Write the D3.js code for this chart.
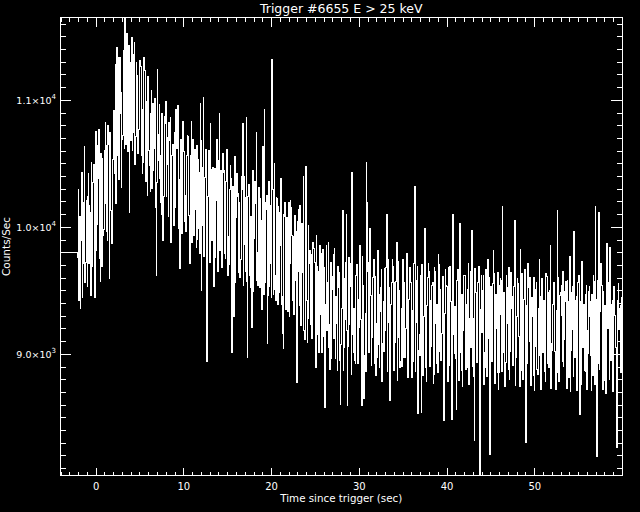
<!DOCTYPE html>
<html>
<head>
<meta charset="utf-8">
<script src="https://cdn.jsdelivr.net/npm/d3@7"></script>
<style>
body{margin:0;background:#000;}
svg{display:block;background:#000;}
text{font-family:"DejaVu Sans",sans-serif;fill:#fff;}
</style>
</head>
<body>
<svg id="graph"></svg>
<script>
var title="Trigger #6655 E > 25 keV"
var xLabel="Time since trigger (sec)"
var yLabel="Counts/Sec"
var xTickValues=[0,10,20,30,40,50]
var yTickValues=[9000,10000,11000]
var yTickMantissa=["9.0","1.0","1.1"]
var yTickExponent=["3","4","4"]

// coarse pre-trigger bins
var preTrigStart=-4.096
var preTrigWidth=1.024
var preTrigCounts=[9800,9800]

// 64 ms bins from -2.048 s, read as pairs: first half / second half of each 128 ms step
var binStart=-2.048
var binWidth=0.064
var firstHalf=[
9760,9420,10080,9890,9440,10190,10630,9720,
9980,10240,9710,10110,10505,9830,10360,9440,
10750,10020,10380,10765,9570,10290,10540,9980,
10600,10180,10640,10800,9590,10420,10090,10530,
10915,10420,10180,11410,11330,10560,10890,10310,
10720,11180,11645,10650,11230,10880,10110,11290,
11490,10740,11050,10490,11290,10830,10600,11120,
11260,10560,10920,11330,10410,10780,10250,11050,
10480,10890,10300,10970,10620,10150,9620,11240,
10730,10380,10560,10890,9890,10470,10810,10240,
10490,10820,10680,9880,10560,10310,10740,10150,
10620,10955,10370,9670,10690,10240,10780,10430,
10250,10560,10710,10090,9710,10830,10370,10180,
10520,10140,10640,9990,10430,10970,9500,10280,
11020,10390,10610,8940,10240,10520,10815,10450,
10130,9530,10460,10210,10690,9800,10890,10340,
10020,10580,10440,9790,10360,10610,9920,10270,
10480,9010,10320,9290,10550,10070,10240,9680,
10190,9740,10400,10810,9860,10230,10860,8970,
10310,9620,10080,9210,10440,9910,10180,10745,
9800,10270,9520,10050,9350,10630,10925,9640,
10140,9080,10360,9710,10020,11315,9470,10500,
9620,10230,9390,10110,9850,10380,9160,9040,
10080,9560,10070,9330,10190,9710,10150,9490,
9920,10060,9580,8775,10040,9650,10170,9430,
9640,10395,9110,10475,9420,9280,9710,9560,
9780,9470,9830,9720,8890,9690,9650,9380,
9310,9040,9820,9560,8580,9390,9180,9875,
9230,9640,8960,9510,9780,9120,9450,8870,
9520,9190,8600,9360,10130,9050,9270,10100,
8590,9480,9230,9710,10430,9150,9360,8920,
9620,9080,9430,9850,9270,8590,9540,8650,
9320,10510,10190,9010,9990,9460,9150,9600,
8920,9580,9240,9810,9070,9470,9330,8780,
9410,9670,9180,10100,9250,9520,8630,9390,
9740,9010,9560,9290,9880,9130,9450,8890,
9360,9620,8970,9510,9200,9790,8810,9430,
9570,9080,9340,9690,10320,9250,9480,8530,
9150,9440,8540,9620,9290,9990,9060,9380,
9710,8950,9420,9180,9560,8840,9650,9240,
9390,9780,9020,9470,9160,9610,8475,9320,
9540,9090,9680,9260,9410,8480,10100,9150,
9370,8560,9590,9230,10030,9010,9470,9180,
9620,9140,9390,8890,9710,9280,9050,9970,
9280,8320,9560,9130,9440,9690,8045,9350,
9170,9620,9010,9480,9290,9740,9120,8207,
9530,9340,9810,8960,9450,9200,9640,8850,
9310,9580,10160,9070,9390,8930,9520,9240,
9680,9020,9360,9180,9470,10050,8970,9290,
9550,9140,9820,9250,8890,9430,9660,8300,
9380,9710,9100,9520,8940,9290,9600,9060,
9470,8880,9360,9740,9130,9550,9010,9420,
9190,9630,8920,9480,9270,9850,9080,9390,
9560,9020,9340,10130,9210,8870,9480,9300,
9650,9110,9410,8940,9580,9260,9770,9030,
9340,9190,9960,9080,9450,9270,9620,8520,
9410,9730,9050,9360,8860,9540,9180,9490,
9290,8990,9470,9620,9370,10160,8190,9580,
10110,9330,9710,9060,9490,8870,9380,9870,
9200,9560,9840,9150,9420,8970,9310,9050,
8260,9420,9190,9380,9050,9470,9280,9150
]
var secondHalf=[
10290,9480,9360,10430,9710,10080,9560,10210,
9530,10420,10170,9460,9690,10350,10490,9580,
9810,10640,10470,9750,10580,9690,9930,10090,
10820,9960,9890,10650,10740,10130,9870,10690,
10420,11280,11120,10560,10370,11330,11060,10690,
11390,10620,10870,11520,10590,11430,11210,10680,
10600,11360,11450,10710,11190,10580,10770,11310,
11150,10420,10510,11230,10360,10990,11180,10600,
10280,11070,10900,10440,11010,10210,10350,10520,
10960,10190,10100,10820,10240,10870,10990,10700,
10080,10790,10860,10230,10650,10010,10170,10920,
10780,9990,10120,10660,9950,10830,10590,10040,
9960,10720,10640,10080,10560,9880,10690,9930,
10610,9840,9900,10530,9790,10680,10010,10470,
9770,10560,10490,9830,10600,9720,10410,9890,
10470,9690,9760,10380,9650,10520,9810,10440,
9680,10430,10350,9750,10480,9620,9700,10290,
10380,9580,9690,10310,9560,10420,10260,9640,
9600,10370,10290,9540,10400,9650,9570,10240,
10330,9520,9610,10250,9490,10360,10200,9580,
9540,10310,10220,9600,10280,9470,9560,10190,
10250,9460,9530,10170,9440,10290,10130,9510,
9420,10220,10160,9480,10230,9390,9450,10100,
10190,9350,9480,10060,9290,10210,9930,9420,
9310,10090,9960,9250,10140,9380,9220,10030,
9940,9180,9290,9870,9090,10010,9810,9230,
9120,9880,9760,9040,9930,9150,9010,9850,
9790,9010,9140,9680,8930,9850,9560,9050,
8880,9720,9610,9120,9830,8960,9240,9690,
9640,8950,9070,9810,8870,9590,9720,9180,
9060,9760,9530,8840,9690,9010,8950,9620,
9700,8920,9210,9640,8800,9770,9450,8990,
8860,9650,9720,9040,9580,8910,9130,9740,
9610,8830,8970,9700,8890,9520,9660,9080,
9020,9590,9680,8860,9740,8930,8850,9560,
9690,8870,9090,9570,8790,9730,9500,8940,
8900,9740,9560,8970,9620,8820,9110,9680,
9560,8810,8940,9710,8860,9580,9690,9030,
8990,9620,9700,8830,9530,8890,8780,9600,
9650,8900,9060,9540,8770,9680,9470,8920,
8850,9700,9510,8950,9590,8800,9150,9660,
9530,8780,8910,9690,8840,9550,9630,9000,
8960,9580,9660,8790,9500,8870,8740,9570,
9620,8880,9030,9510,8760,9650,9420,8900,
8820,9670,9480,8930,9560,8770,9090,9620,
9500,8760,8890,9660,8820,9520,9600,8980,
8940,9550,9630,8770,9470,8850,8720,9540,
9590,8860,9010,9480,8740,9620,9390,8880,
8800,9640,9450,8910,9530,8750,9060,9590,
9470,8740,8870,9630,8800,9490,9570,8960,
8920,9520,9600,8750,9440,8830,8710,9510,
9560,8840,8990,9450,8720,9590,9360,8860,
8780,9610,9420,8890,9500,8730,9030,9560,
9440,8720,8850,9600,8780,9460,9540,8940,
8900,9490,9570,8730,9410,8810,8700,9480,
9530,8820,8970,9420,8710,9560,9330,8840,
8760,9580,9390,8870,9470,8720,9000,9530,
9410,8710,8830,9570,8760,9430,9510,8920,
8880,9460,9540,8720,9380,8790,8690,9450,
9500,8800,8950,9390,8700,9530,9300,8820,
8740,9550,9360,8850,9440,8710,8980,9500
]

var initGraph=function()
    {
        var screen={width:640,height:512}
        var margins={left:60.5,right:18,top:17.5,bottom:36.5}
        var graph=
            {
                width:screen.width-margins.left-margins.right,
                height:screen.height-margins.top-margins.bottom
            }

        d3.select("#graph")
            .attr("width",screen.width)
            .attr("height",screen.height)

        var target=d3.select("#graph")
            .append("g")
            .attr("id","canvas")
            .attr("transform","translate("+margins.left+","+margins.top+")")

        var xScale=d3.scaleLinear()
            .domain([-4,60])
            .range([0,graph.width])
        var yScale=d3.scaleLinear()
            .domain([8042,11648])
            .range([graph.height,0])

        drawLine(target,graph,xScale,yScale)
        drawAxes(target,graph,xScale,yScale)
        drawLabels(graph,margins,yScale)
    }

var drawLine=function(target,graph,xScale,yScale)
    {
        var counts=d3.merge(firstHalf.map(function(v,i){return [v,secondHalf[i]]}))
        var points=[]
        preTrigCounts.forEach(function(v,i)
            {
                points.push({t:preTrigStart+i*preTrigWidth,v:v})
            })
        counts.forEach(function(v,i)
            {
                points.push({t:binStart+i*binWidth,v:v})
            })
        points.push({t:binStart+counts.length*binWidth,v:counts[counts.length-1]})

        target.append("clipPath")
            .attr("id","plotClip")
            .append("rect")
            .attr("width",graph.width)
            .attr("height",graph.height)

        var lineGenerator=d3.line()
            .curve(d3.curveStepAfter)
            .x(function(d){return xScale(d.t)})
            .y(function(d){return yScale(d.v)})

        target.append("path")
            .datum(points)
            .attr("d",lineGenerator)
            .attr("clip-path","url(#plotClip)")
            .attr("fill","none")
            .attr("stroke","#fff")
            .attr("stroke-width",1)
            .attr("shape-rendering","crispEdges")
    }

var drawAxes=function(target,graph,xScale,yScale)
    {
        var xMinor=d3.range(-4,61,1).filter(function(t){return xTickValues.indexOf(t)<0})
        var yMinor=d3.range(8100,11700,100).filter(function(v){return yTickValues.indexOf(v)<0})

        var addAxis=function(axis,tx,ty)
            {
                var g=target.append("g")
                    .attr("transform","translate("+tx+","+ty+")")
                    .style("color","#fff")
                    .attr("shape-rendering","crispEdges")
                    .call(axis)
                g.select(".domain").remove()
                g.selectAll("text")
                    .attr("font-family","DejaVu Sans")
                    .attr("font-size",10)
                return g
            }

        addAxis(d3.axisBottom(xScale).tickValues(xTickValues).tickSize(-8).tickPadding(7.5).tickFormat(d3.format("d")),0,graph.height)
        addAxis(d3.axisBottom(xScale).tickValues(xMinor).tickSize(-4).tickFormat(""),0,graph.height)
        addAxis(d3.axisTop(xScale).tickValues(xTickValues).tickSize(-9).tickFormat(""),0,0)
        addAxis(d3.axisTop(xScale).tickValues(xMinor).tickSize(-4).tickFormat(""),0,0)

        addAxis(d3.axisLeft(yScale).tickValues(yTickValues).tickSize(-10).tickFormat(""),0,0)
        addAxis(d3.axisLeft(yScale).tickValues(yMinor).tickSize(-5).tickFormat(""),0,0)
        addAxis(d3.axisRight(yScale).tickValues(yTickValues).tickSize(-11).tickFormat(""),graph.width,0)
        addAxis(d3.axisRight(yScale).tickValues(yMinor).tickSize(-5).tickFormat(""),graph.width,0)

        target.append("rect")
            .attr("width",graph.width)
            .attr("height",graph.height)
            .attr("fill","none")
            .attr("stroke","#fff")
            .attr("shape-rendering","crispEdges")

        // y tick labels, mantissa x 10 with a raised exponent
        var yLab=target.append("g")
            .selectAll("text")
            .data(yTickValues)
            .enter()
            .append("text")
            .attr("text-anchor","end")
            .attr("x",-4.5)
            .attr("y",function(d){return yScale(d)+3.8})
            .attr("font-size",9.5)
        yLab.append("tspan")
            .text(function(d,i){return yTickMantissa[i]+"\u00d710"})
        yLab.append("tspan")
            .attr("dy",-5)
            .attr("font-size",7)
            .text(function(d,i){return yTickExponent[i]})
    }

var drawLabels=function(graph,margins,yScale)
    {
        var labels=d3.select("#graph")
            .append("g")
            .classed("labels",true)
        labels.append("text")
            .text(title)
            .attr("text-anchor","middle")
            .attr("font-size",12.5)
            .attr("x",margins.left+graph.width/2)
            .attr("y",12.5)
        labels.append("text")
            .text(xLabel)
            .attr("text-anchor","middle")
            .attr("font-size",10.3)
            .attr("x",margins.left+graph.width/2)
            .attr("y",502)
        labels.append("g")
            .attr("transform","translate(9.5,"+(margins.top+graph.height/2)+")")
            .append("text")
            .text(yLabel)
            .attr("text-anchor","middle")
            .attr("font-size",10.5)
            .attr("transform","rotate(-90)")
    }

initGraph()
</script>
</body>
</html>
